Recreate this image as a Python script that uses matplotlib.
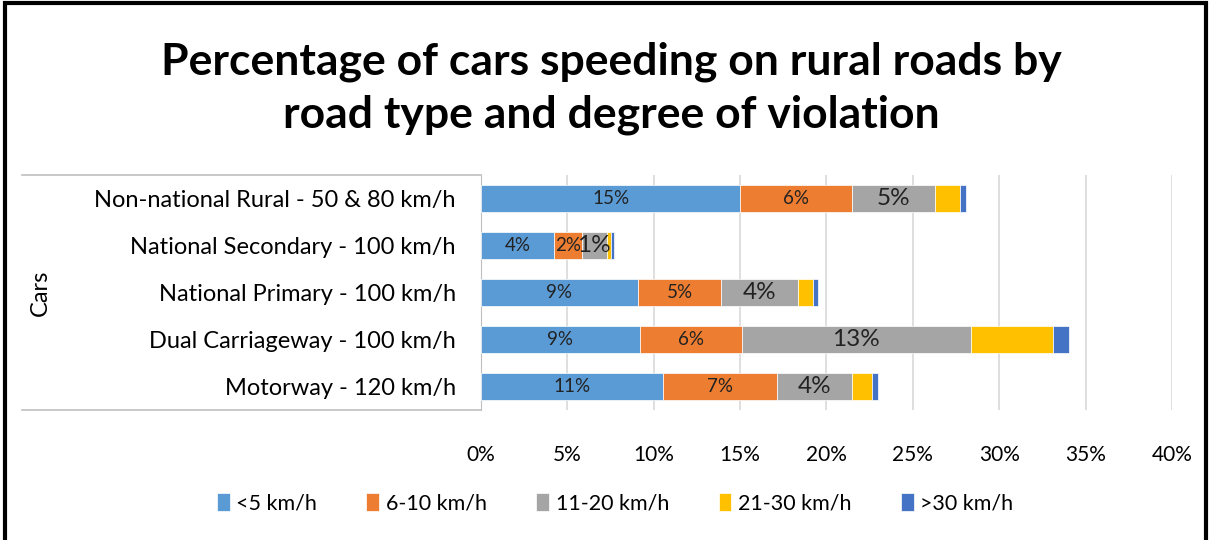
import matplotlib.pyplot as plt
from matplotlib.patches import Rectangle

plt.rcParams['font.family'] = ['Lato', 'DejaVu Sans']

# road types (top to bottom as drawn)
roads = ['Non-national Rural - 50 & 80 km/h', 'National Secondary - 100 km/h',
         'National Primary - 100 km/h', 'Dual Carriageway - 100 km/h',
         'Motorway - 120 km/h']
bands = ['<5 km/h', '6-10 km/h', '11-20 km/h', '21-30 km/h', '>30 km/h']

lt5 = [15.0, 4.25, 9.06, 9.18, 10.55]
b6_10 = [6.48, 1.58, 4.86, 5.94, 6.6]
b11_20 = [4.79, 1.44, 4.43, 13.22, 4.32]
b21_30 = [1.44, 0.23, 0.84, 4.75, 1.19]
gt30 = [0.37, 0.18, 0.34, 0.96, 0.30]

series = [lt5, b6_10, b11_20, b21_30, gt30]
colors = ['#5B9BD5', '#ED7D31', '#A5A5A5', '#FFC000', '#4472C4']
label_sizes = [13.5, 13.5, 17.5, None, None]

fig = plt.figure(figsize=(12.11, 5.40), dpi=100)
ax = fig.add_axes([481 / 1211, 1 - 410 / 540, (1172 - 481) / 1211, 235 / 540])

ypos = list(range(len(roads)))[::-1]
left = [0] * len(roads)
for vals, col, name, fs in zip(series, colors, bands, label_sizes):
    ax.barh(ypos, vals, left=left, height=0.57, color=col, label=name,
            edgecolor='white', linewidth=0.5, zorder=3)
    if fs:
        for y, l, v in zip(ypos, left, vals):
            ax.text(l + v / 2, y, f'{round(v):.0f}%', ha='center', va='center',
                    fontsize=fs, color='#222222', zorder=4)
    left = [a + b for a, b in zip(left, vals)]

ax.set_xlim(0, 40)
ax.set_ylim(-0.5, 4.5)
ax.set_xticks(range(0, 41, 5))
ax.set_xticklabels([f'{t}%' for t in range(0, 41, 5)], fontsize=15)
ax.tick_params(axis='x', length=0, pad=25)
ax.set_yticks(ypos)
ax.set_yticklabels(roads, fontsize=17)
ax.tick_params(axis='y', length=0, pad=18)
ax.grid(axis='x', color='#D9D9D9', linewidth=1.2, zorder=0)
for s in ['top', 'right', 'bottom']:
    ax.spines[s].set_visible(False)
ax.spines['left'].set_color('#BFBFBF')

# multi-level category frame
fig.add_artist(plt.Line2D([22 / 1211, 481 / 1211], [1 - 175 / 540] * 2,
                          color='#BFBFBF', lw=1.2))
fig.add_artist(plt.Line2D([22 / 1211, 481 / 1211], [1 - 410 / 540] * 2,
                          color='#BFBFBF', lw=1.2))
fig.text(40 / 1211, 1 - 293 / 540, 'Cars', rotation=90, ha='center',
         va='center', fontsize=17)

fig.text(0.505, 1 - 62 / 540, 'Percentage of cars speeding on rural roads by',
         ha='center', va='center', fontsize=32, fontweight='bold')
fig.text(0.505, 1 - 115 / 540, 'road type and degree of violation',
         ha='center', va='center', fontsize=32, fontweight='bold')

fig.legend(loc='center', bbox_to_anchor=(615 / 1211, 1 - 503 / 540), ncol=5,
           frameon=False, fontsize=15.5, handlelength=0.6, handleheight=0.9,
           handletextpad=0.3, columnspacing=2.3)

# outer frame
fig.add_artist(Rectangle((0.004, -0.01), 0.992, 1.004, transform=fig.transFigure,
                         fill=False, edgecolor='black', lw=3))

fig.savefig('out.png', dpi=100)
